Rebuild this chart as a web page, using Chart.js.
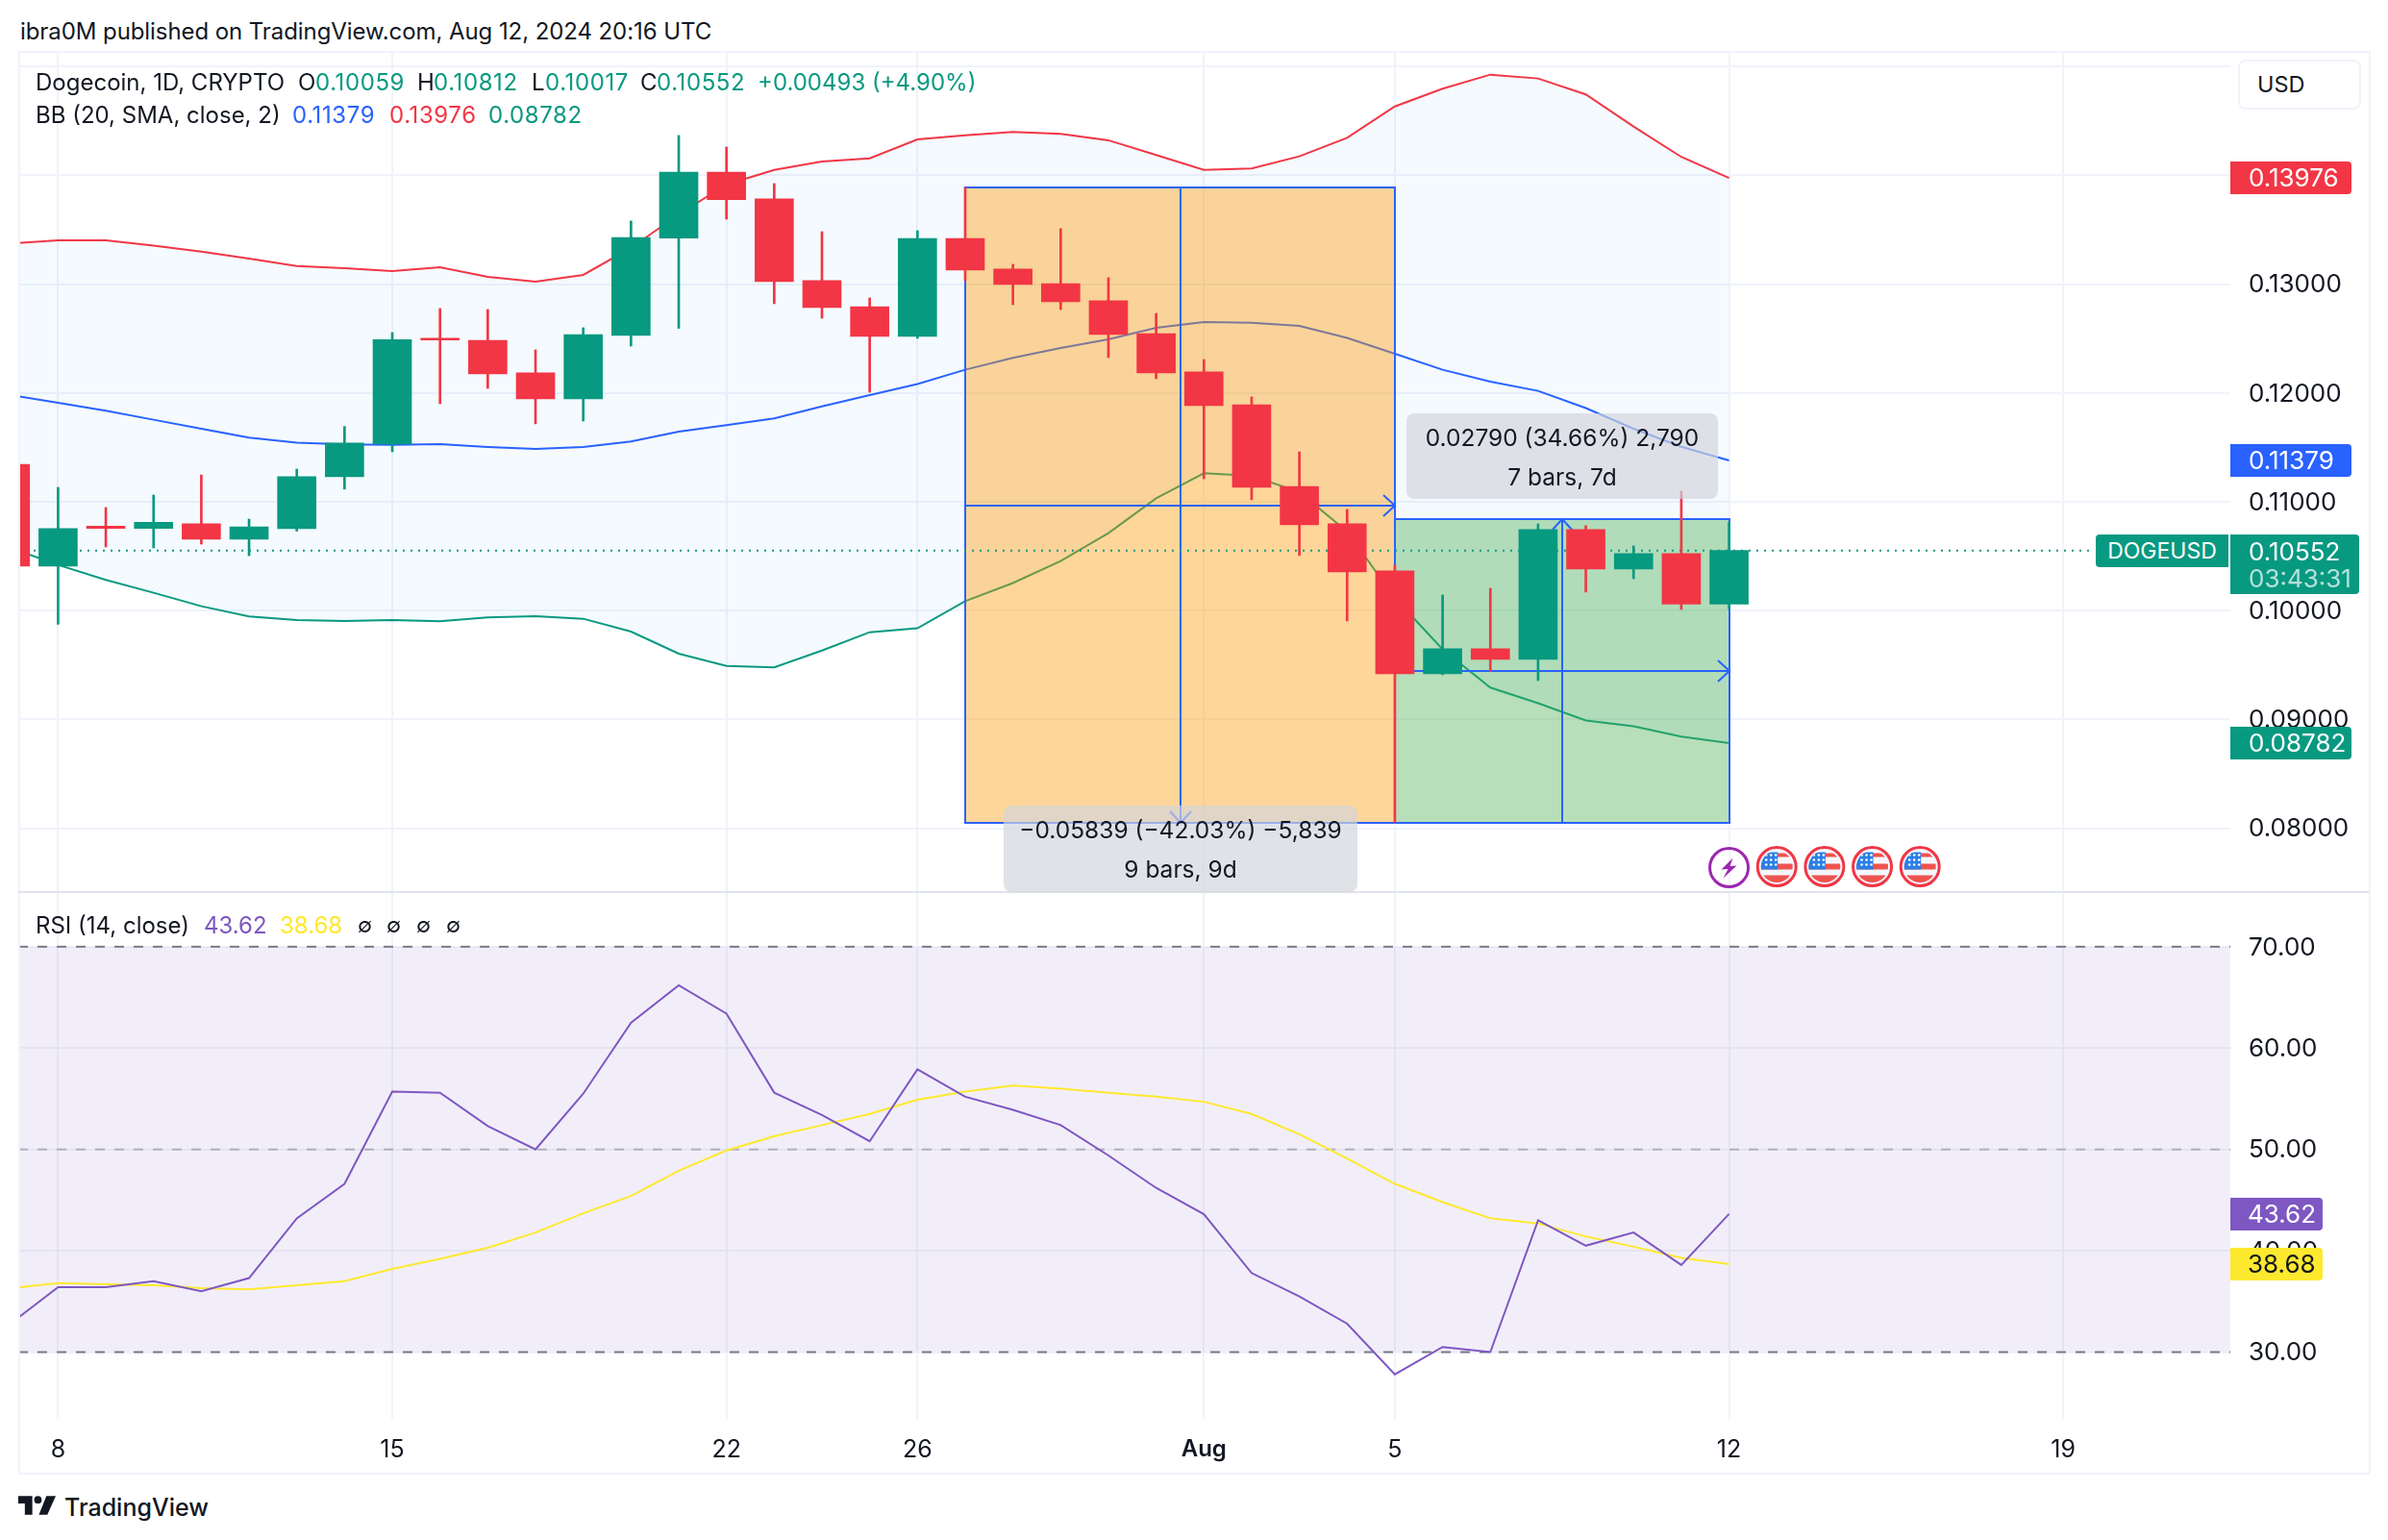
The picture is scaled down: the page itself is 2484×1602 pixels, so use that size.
<!DOCTYPE html>
<html>
<head>
<meta charset="utf-8">
<title>Dogecoin 1D</title>
<script src="https://cdn.jsdelivr.net/npm/chart.js@4/dist/chart.umd.js"></script>
<style>
  html, body { margin: 0; padding: 0; background: #fff; }
  #page { position: relative; width: 2484px; height: 1602px; overflow: hidden; font-family: Inter, sans-serif; color: #131722; }
  canvas { position: absolute; left: 19px; }
  #priceCanvas { top: 54px; }
  #rsiCanvas { top: 928px; }
  #frame { position: absolute; left: 19px; top: 53px; width: 2443px; height: 1477px; border: 2px solid #f0f3fa; }
  #divider { position: absolute; left: 19px; top: 927px; width: 2445px; height: 2px; background: #e0e3eb; }
  .txt { position: absolute; white-space: nowrap; transform: translateY(-50%); }
  .tag { position: absolute; box-sizing: border-box; white-space: nowrap; }
  .toolLabel { position: absolute; background: rgba(209, 212, 220, 0.68); border-radius: 8px; text-align: center; font-size: 24.5px; }
</style>
</head>
<body>
<div id="page">
  <canvas id="priceCanvas" width="2446" height="874"></canvas>
  <canvas id="rsiCanvas" width="2446" height="604"></canvas>
  <div id="frame"></div>
  <div id="divider"></div>
</div>
<script>
// days counted from Jul 8, -1 is the clipped Jul 7 candle
const days = [-1, 0, 1, 2, 3, 4, 5, 6, 7, 8, 9, 10, 11, 12, 13, 14, 15, 16, 17, 18, 19, 20, 21, 22, 23, 24, 25, 26, 27, 28, 29, 30, 31, 32, 33, 34, 35];
const opens = [0.11344, 0.10408, 0.10775, 0.10755, 0.10797, 0.10655, 0.10754, 0.11230, 0.11530, 0.12504, 0.12484, 0.12184, 0.11945, 0.12528, 0.13423, 0.14030, 0.13783, 0.13032, 0.12793, 0.12519, 0.13420, 0.13138, 0.13005, 0.12848, 0.12546, 0.12193, 0.11892, 0.11141, 0.10797, 0.10364, 0.09419, 0.09649, 0.09552, 0.10744, 0.10382, 0.10523, 0.10059];
const highs = [0.11344, 0.11132, 0.10947, 0.11062, 0.11247, 0.10841, 0.11300, 0.11692, 0.12555, 0.12776, 0.12767, 0.12396, 0.12599, 0.13580, 0.14366, 0.14260, 0.13924, 0.13482, 0.12873, 0.13491, 0.13889, 0.13182, 0.13510, 0.13060, 0.12731, 0.12307, 0.11963, 0.11459, 0.10930, 0.10419, 0.10143, 0.10205, 0.10797, 0.10780, 0.10594, 0.11097, 0.10812];
const lows = [0.10408, 0.09874, 0.10585, 0.10576, 0.10611, 0.10505, 0.10730, 0.11116, 0.11459, 0.11901, 0.12042, 0.11716, 0.11742, 0.12431, 0.12593, 0.13597, 0.12820, 0.12687, 0.12007, 0.12502, 0.13032, 0.12811, 0.12767, 0.12325, 0.12131, 0.11212, 0.11018, 0.10506, 0.09905, 0.08053, 0.09410, 0.09441, 0.09357, 0.10170, 0.10293, 0.10010, 0.10017];
const closes = [0.10408, 0.10753, 0.10755, 0.10811, 0.10655, 0.10770, 0.11230, 0.11539, 0.12490, 0.12487, 0.12175, 0.11945, 0.12537, 0.13429, 0.14030, 0.13776, 0.13023, 0.12784, 0.12519, 0.13420, 0.13130, 0.12996, 0.12837, 0.12537, 0.12184, 0.11883, 0.11133, 0.10788, 0.10355, 0.09419, 0.09649, 0.09552, 0.10744, 0.10382, 0.10523, 0.10059, 0.10552];

const bbBasis = [0.11981, 0.11910, 0.11837, 0.11754, 0.11671, 0.11589, 0.11542, 0.11527, 0.11524, 0.11530, 0.11504, 0.11486, 0.11504, 0.11554, 0.11645, 0.11704, 0.11766, 0.11877, 0.11981, 0.12082, 0.12213, 0.12322, 0.12413, 0.12493, 0.12599, 0.12652, 0.12646, 0.12617, 0.12506, 0.12360, 0.12213, 0.12104, 0.12019, 0.11861, 0.11671, 0.11505, 0.11379];
const bbUpper = [0.13372, 0.13403, 0.13403, 0.13354, 0.13299, 0.13235, 0.13167, 0.13147, 0.13120, 0.13155, 0.13067, 0.13023, 0.13085, 0.13332, 0.13641, 0.13915, 0.14050, 0.14127, 0.14156, 0.14330, 0.14368, 0.14398, 0.14381, 0.14322, 0.14186, 0.14050, 0.14063, 0.14174, 0.14345, 0.14633, 0.14796, 0.14925, 0.14890, 0.14743, 0.14448, 0.14169, 0.13976];
const bbLower = [0.10576, 0.10420, 0.10282, 0.10164, 0.10040, 0.09946, 0.09914, 0.09905, 0.09914, 0.09902, 0.09937, 0.09949, 0.09925, 0.09807, 0.09604, 0.09492, 0.09478, 0.09633, 0.09801, 0.09837, 0.10086, 0.10253, 0.10455, 0.10712, 0.11032, 0.11262, 0.11239, 0.11088, 0.10726, 0.10116, 0.09644, 0.09292, 0.09149, 0.08990, 0.08936, 0.08842, 0.08782];

const rsiValues = [32.8, 36.4, 36.4, 37.0, 36.0, 37.3, 43.2, 46.6, 55.7, 55.6, 52.3, 50.0, 55.5, 62.5, 66.2, 63.4, 55.6, 53.4, 50.8, 57.9, 55.2, 53.9, 52.4, 49.4, 46.2, 43.6, 37.8, 35.5, 32.8, 27.8, 30.5, 30.0, 43.0, 40.5, 41.8, 38.6, 43.62];
const rsiMa = [36.3, 36.8, 36.7, 36.6, 36.3, 36.2, 36.6, 37.0, 38.2, 39.2, 40.3, 41.8, 43.7, 45.4, 47.9, 49.9, 51.3, 52.4, 53.5, 54.9, 55.7, 56.3, 56.0, 55.6, 55.2, 54.7, 53.5, 51.5, 49.1, 46.6, 44.8, 43.2, 42.7, 41.4, 40.4, 39.3, 38.68];

const tickDays = [0, 7, 14, 18, 24, 28, 35, 42];
const tickLabels = ['8', '15', '22', '26', 'Aug', '5', '12', '19'];
const priceTicks = [0.08, 0.09, 0.10, 0.11, 0.12, 0.13, 0.14, 0.15];
const unlabelledPriceTicks = [0.14, 0.15];
const rsiTicks = [30, 40, 50, 60, 70];

const lastClose = 0.10552;
const dropDays = [19, 28];
const dropRange = [0.13889, 0.08053];
const riseDays = [28, 35];
const riseRange = [0.10843, 0.08053];
const eventDays = [35, 36, 37, 38, 39];

const GREEN = '#089981';
const RED = '#F23645';
const BLUE = '#2962FF';
const PURPLE = '#7E57C2';
const YELLOW = '#FDE92E';
const GRID = '#f0f3fa';

const X_MIN = -0.834;
const X_MAX = 45.5;
const AXIS_WIDTH = 145;

Chart.defaults.font.family = 'Inter, sans-serif';
Chart.defaults.font.size = 26;
Chart.defaults.color = '#131722';

const points = (values) => values.map((v, i) => ({ x: days[i], y: v }));
const flat = (v, from, to) => [{ x: from, y: v }, { x: to, y: v }];
const candleColors = opens.map((o, i) => (closes[i] >= o ? GREEN : RED));

function lineSet(label, data, color, extra) {
  return Object.assign({
    type: 'line',
    label: label,
    data: data,
    borderColor: color,
    borderWidth: 2,
    pointRadius: 0,
    tension: 0,
    fill: false
  }, extra);
}

function noPadding(scale) {
  scale.paddingTop = 0;
  scale.paddingBottom = 0;
  scale.paddingLeft = 0;
  scale.paddingRight = 0;
}

function timeScale(showLabels) {
  return {
    type: 'linear',
    min: X_MIN,
    max: X_MAX,
    offset: false,
    afterBuildTicks: (scale) => {
      scale.ticks = tickDays.map((d) => ({ value: d }));
    },
    afterFit: (scale) => {
      scale.height = showLabels ? 56 : 0;
      noPadding(scale);
    },
    grid: { color: GRID, lineWidth: 2, drawTicks: false, offset: false },
    border: { display: false },
    ticks: {
      display: showLabels,
      autoSkip: false,
      maxRotation: 0,
      padding: 17,
      font: (ctx) => (ctx.tick && ctx.tick.label === 'Aug' ? { size: 24, weight: '600' } : { size: 25, weight: '400' }),
      callback: (value) => tickLabels[tickDays.indexOf(value)]
    }
  };
}

function valueScale(min, max, tickValues, digits, unlabelled) {
  return {
    position: 'right',
    min: min,
    max: max,
    afterBuildTicks: (scale) => {
      scale.ticks = tickValues.map((v) => ({ value: v }));
    },
    afterFit: (scale) => {
      scale.width = AXIS_WIDTH;
      noPadding(scale);
    },
    grid: { color: GRID, lineWidth: 2, drawTicks: false },
    border: { display: false },
    ticks: {
      autoSkip: false,
      padding: 19,
      labelOffset: 1,
      callback: (value) => (unlabelled.includes(value) ? '' : value.toFixed(digits))
    }
  };
}

function drawChevron(ctx, x, y, dx, dy) {
  // tip at x,y, wings go back along dx,dy
  ctx.beginPath();
  ctx.moveTo(x - dx * 12 - dy * 11, y - dy * 12 - dx * 11);
  ctx.lineTo(x, y);
  ctx.lineTo(x - dx * 12 + dy * 11, y - dy * 12 + dx * 11);
  ctx.stroke();
}

function drawMeasureBox(ctx, chart, dayRange, range, fillColor, arrowY) {
  const xs = chart.scales.x;
  const ys = chart.scales.y;
  const left = Math.round(xs.getPixelForValue(dayRange[0]));
  const right = Math.round(xs.getPixelForValue(dayRange[1]));
  const top = Math.round(ys.getPixelForValue(range[0]));
  const bottom = Math.round(ys.getPixelForValue(range[1]));
  const midX = Math.round((left + right) / 2);
  const midY = Math.round((top + bottom) / 2);

  ctx.save();
  ctx.fillStyle = fillColor;
  ctx.fillRect(left, top, right - left, bottom - top);
  ctx.strokeStyle = BLUE;
  ctx.lineWidth = 2;
  ctx.strokeRect(left, top, right - left, bottom - top);
  ctx.beginPath();
  ctx.moveTo(left, midY);
  ctx.lineTo(right, midY);
  ctx.moveTo(midX, top);
  ctx.lineTo(midX, bottom);
  ctx.stroke();
  drawChevron(ctx, right, midY, 1, 0);
  if (arrowY > 0) {
    drawChevron(ctx, midX, bottom, 0, 1);
  } else {
    drawChevron(ctx, midX, top, 0, -1);
  }
  ctx.restore();
}

const measurePlugin = {
  id: 'measureBoxes',
  beforeDatasetDraw(chart, args) {
    if (chart.data.datasets[args.index].label !== 'Last') {
      return;
    }
    const ctx = chart.ctx;
    drawMeasureBox(ctx, chart, dropDays, dropRange, 'rgba(255, 152, 0, 0.4)', 1);
    drawMeasureBox(ctx, chart, riseDays, riseRange, 'rgba(76, 175, 80, 0.4)', -1);
  }
};

function drawBolt(ctx, x, y) {
  ctx.strokeStyle = '#9C27B0';
  ctx.lineWidth = 3;
  ctx.beginPath();
  ctx.arc(x, y, 20, 0, Math.PI * 2);
  ctx.stroke();
  ctx.fillStyle = '#9C27B0';
  ctx.beginPath();
  ctx.moveTo(x + 4, y - 10);
  ctx.lineTo(x - 8, y + 2);
  ctx.lineTo(x - 1, y + 1.5);
  ctx.lineTo(x - 6, y + 11);
  ctx.lineTo(x + 8, y - 2);
  ctx.lineTo(x + 1, y - 1.5);
  ctx.closePath();
  ctx.fill();
}

function drawFlag(ctx, x, y) {
  ctx.save();
  ctx.fillStyle = '#f5f7fd';
  ctx.strokeStyle = RED;
  ctx.lineWidth = 3;
  ctx.beginPath();
  ctx.arc(x, y, 20, 0, Math.PI * 2);
  ctx.fill();
  ctx.stroke();
  ctx.beginPath();
  ctx.arc(x, y, 16.5, 0, Math.PI * 2);
  ctx.clip();
  ctx.fillStyle = '#EF5350';
  ctx.fillRect(x - 17, y - 3, 34, 6);
  ctx.fillRect(x - 17, y - 14, 34, 4);
  ctx.fillRect(x - 17, y + 9, 34, 9);
  ctx.fillStyle = '#2A7FE6';
  ctx.fillRect(x - 17, y - 15, 18, 18);
  ctx.fillStyle = '#fff';
  [-12, -7, -2].forEach((sy) => {
    [-11, -6, -1].forEach((sx) => {
      ctx.beginPath();
      ctx.arc(x + sx, y + sy, 1.3, 0, Math.PI * 2);
      ctx.fill();
    });
  });
  ctx.restore();
}

const eventsPlugin = {
  id: 'events',
  afterDraw(chart) {
    const ctx = chart.ctx;
    ctx.save();
    eventDays.forEach((day, i) => {
      const x = chart.scales.x.getPixelForValue(day);
      if (i === 0) {
        drawBolt(ctx, x, 848.5);
      } else {
        drawFlag(ctx, x, 847.5);
      }
    });
    ctx.restore();
  }
};

const priceChart = new Chart(document.getElementById('priceCanvas'), {
  type: 'line',
  data: {
    datasets: [
      lineSet('Upper', points(bbUpper), RED, { order: 10, fill: { target: 2 }, backgroundColor: 'rgba(33, 150, 243, 0.05)' }),
      lineSet('Basis', points(bbBasis), BLUE, { order: 9 }),
      lineSet('Lower', points(bbLower), GREEN, { order: 8 }),
      lineSet('Last', flat(lastClose, X_MIN, 42.6), GREEN, { order: 5, borderDash: [2, 6] }),
      {
        type: 'bar',
        label: 'Wicks',
        order: 3,
        data: lows.map((l, i) => ({ x: days[i], y: [l, highs[i]] })),
        backgroundColor: candleColors,
        barThickness: 2,
        grouped: false
      },
      {
        type: 'bar',
        label: 'Bodies',
        order: 2,
        data: opens.map((o, i) => ({ x: days[i], y: [o, closes[i]] })),
        backgroundColor: candleColors,
        barThickness: 40,
        grouped: false
      }
    ]
  },
  options: {
    responsive: false,
    animation: false,
    devicePixelRatio: 1,
    layout: { padding: 0 },
    plugins: { legend: { display: false }, tooltip: { enabled: false } },
    scales: {
      x: timeScale(false),
      y: valueScale(0.07413, 0.15134, priceTicks, 5, unlabelledPriceTicks)
    }
  },
  plugins: [measurePlugin, eventsPlugin]
});

const rsiChart = new Chart(document.getElementById('rsiCanvas'), {
  type: 'line',
  data: {
    datasets: [
      lineSet('Band', flat(70, X_MIN, X_MAX), '#787B86', { order: 10, borderDash: [10, 10], fill: { target: 2 }, backgroundColor: 'rgba(126, 87, 194, 0.1)' }),
      lineSet('Middle', flat(50, X_MIN, X_MAX), 'rgba(120, 123, 134, 0.5)', { order: 9, borderDash: [10, 10] }),
      lineSet('Floor', flat(30, X_MIN, X_MAX), '#787B86', { order: 8, borderDash: [10, 10] }),
      lineSet('RSI', points(rsiValues), PURPLE, { order: 2 }),
      lineSet('RSI MA', points(rsiMa), YELLOW, { order: 3 })
    ]
  },
  options: {
    responsive: false,
    animation: false,
    devicePixelRatio: 1,
    layout: { padding: 0 },
    plugins: { legend: { display: false }, tooltip: { enabled: false } },
    scales: {
      x: timeScale(true),
      y: valueScale(23.41, 75.39, rsiTicks, 2, [])
    }
  }
});

const page = document.getElementById('page');

function addText(x, cy, text, color, size, weight) {
  const el = document.createElement('div');
  el.className = 'txt';
  el.textContent = text;
  el.style.left = x + 'px';
  el.style.top = cy + 'px';
  el.style.color = color || '#131722';
  el.style.fontSize = (size || 24) + 'px';
  if (!size && /^0\./.test(text)) {
    el.style.letterSpacing = '0.6px';
  }
  if (weight) {
    el.style.fontWeight = weight;
  }
  page.appendChild(el);
  return el;
}

function addTag(x, cy, w, h, color, text, textColor, textLeft) {
  const el = document.createElement('div');
  el.className = 'tag';
  el.textContent = text;
  el.style.left = x + 'px';
  el.style.top = cy - h / 2 + 'px';
  el.style.width = w + 'px';
  el.style.height = h + 'px';
  el.style.lineHeight = h + 'px';
  el.style.background = color;
  el.style.color = textColor;
  el.style.fontSize = '26px';
  el.style.paddingLeft = textLeft + 'px';
  el.style.borderRadius = '0 4px 4px 0';
  page.appendChild(el);
  return el;
}

function addToolLabel(left, top, width, height, firstLine, secondLine, firstY, secondY) {
  const el = document.createElement('div');
  el.className = 'toolLabel';
  el.style.left = left + 'px';
  el.style.top = top + 'px';
  el.style.width = width + 'px';
  el.style.height = height + 'px';
  [[firstLine, firstY], [secondLine, secondY]].forEach((row) => {
    const line = document.createElement('div');
    line.textContent = row[0];
    line.style.position = 'absolute';
    line.style.left = '0';
    line.style.right = '0';
    line.style.top = row[1] - top - 15 + 'px';
    line.style.lineHeight = '30px';
    el.appendChild(line);
  });
  page.appendChild(el);
}

const priceY = (v) => 54 + priceChart.scales.y.getPixelForValue(v);
const rsiY = (v) => 928 + rsiChart.scales.y.getPixelForValue(v);
const TAG_X = 2320;

addText(21, 32, 'ibra0M published on TradingView.com, Aug 12, 2024 20:16 UTC').style.letterSpacing = '-0.08px';

addText(37, 85, 'Dogecoin, 1D, CRYPTO');
addText(310, 85, 'O');
addText(328, 85, '0.10059', GREEN);
addText(434, 85, 'H');
addText(451, 85, '0.10812', GREEN);
addText(553, 85, 'L');
addText(567, 85, '0.10017', GREEN);
addText(666, 85, 'C');
addText(683, 85, '0.10552', GREEN);
addText(788, 85, '+0.00493 (+4.90%)', GREEN);

addText(37, 119, 'BB (20, SMA, close, 2)');
addText(304, 119, '0.11379', BLUE);
addText(405, 119, '0.13976', RED);
addText(508, 119, '0.08782', GREEN);

addText(37, 962, 'RSI (14, close)');
addText(212, 962, '43.62', PURPLE);
addText(291, 962, '38.68', YELLOW);
[372, 402, 433, 464].forEach((x) => addText(x, 962, '∅', '#131722', 22));

addToolLabel(1463, 430, 324, 89, '0.02790 (34.66%) 2,790', '7 bars, 7d', 455, 496);
addToolLabel(1044, 838, 368, 90, '−0.05839 (−42.03%) −5,839', '9 bars, 9d', 863, 903.5);

const usdButton = document.createElement('div');
usdButton.className = 'tag';
usdButton.textContent = 'USD';
usdButton.style.cssText = 'left:2328px;top:62px;width:128px;height:52px;line-height:48px;padding-left:18px;font-size:23.5px;background:#fff;border:2px solid #f0f3fa;border-radius:8px;';
page.appendChild(usdButton);

addTag(TAG_X, priceY(bbUpper[36]), 126, 34, RED, '0.13976', '#fff', 19);
addTag(TAG_X, priceY(bbBasis[36]), 126, 34, BLUE, '0.11379', '#fff', 19);
addTag(TAG_X, priceY(bbLower[36]), 126, 34, GREEN, '0.08782', '#fff', 19);

const lastTop = priceY(lastClose) - 17;
addTag(TAG_X, lastTop + 31, 134, 62, GREEN, '', '#fff', 19);
addText(2339, lastTop + 17, '0.10552', '#fff', 26);
addText(2339, lastTop + 45, '03:43:31', 'rgba(255, 255, 255, 0.7)', 26);
const symbolTag = addTag(2180, priceY(lastClose), 138, 34, GREEN, 'DOGEUSD', '#fff', 0);
symbolTag.style.textAlign = 'center';
symbolTag.style.fontSize = '23px';
symbolTag.style.borderRadius = '4px 0 0 4px';

addTag(TAG_X, rsiY(rsiValues[36]), 96, 34, PURPLE, '43.62', '#fff', 18);
addTag(TAG_X, rsiY(rsiMa[36]), 96, 34, YELLOW, '38.68', '#131722', 18);

const logo = document.createElementNS('http://www.w3.org/2000/svg', 'svg');
logo.setAttribute('viewBox', '0 0 40 20');
logo.style.cssText = 'position:absolute;left:19px;top:1556px;width:39px;height:20px;';
logo.innerHTML = '<path d="M0 0h15v20H7V8H0z" fill="#131722"/><circle cx="21" cy="4" r="4" fill="#131722"/><path d="M22 20L30 0h10l-9 20z" fill="#131722"/>';
page.appendChild(logo);
addText(67, 1568, 'TradingView', '#131722', 25, '500');
</script>
</body>
</html>
